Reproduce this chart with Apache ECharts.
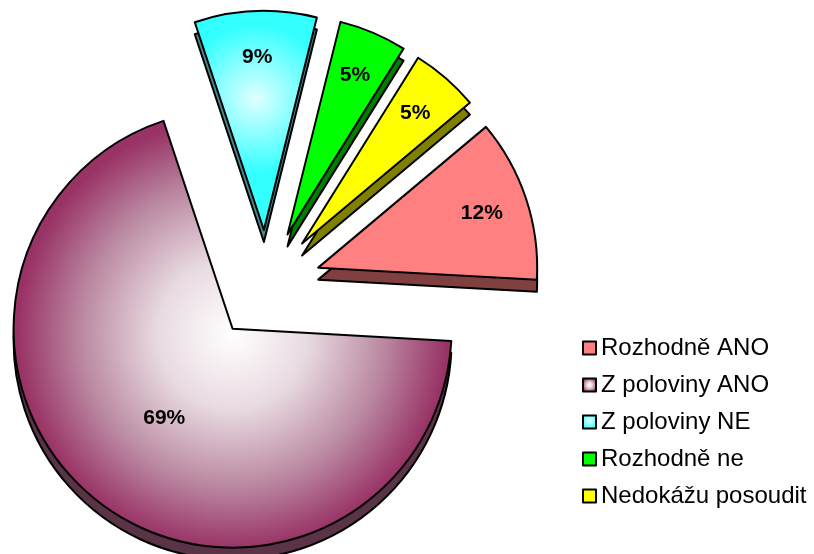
<!DOCTYPE html>
<html>
<head>
<meta charset="utf-8">
<script src="https://cdn.jsdelivr.net/npm/echarts@6/dist/echarts.min.js"></script>
<style>
  html, body { margin: 0; padding: 0; background: #fff; }
  #chart { width: 814px; height: 554px; }
</style>
</head>
<body>
<div id="chart"></div>
<script>
// odpovedi
var categories = ['Rozhodně ANO', 'Z poloviny ANO', 'Z poloviny NE', 'Rozhodně ne', 'Nedokážu posoudit'];
var shares = [12, 69, 9, 5, 5];

var plum = new echarts.graphic.RadialGradient(0.5, 0.5, 0.5, [
    {offset: 0, color: '#ffffff'},
    {offset: 0.35, color: '#e8dae1'},
    {offset: 0.7, color: '#bb8aa2'},
    {offset: 1, color: '#993366'}
]);
var aqua = new echarts.graphic.RadialGradient(0.5, 0.4, 0.6, [
    {offset: 0, color: '#e0ffff'},
    {offset: 1, color: '#33ffff'}
]);
var topColors = ['#ff8080', plum, aqua, '#00ff00', '#ffff00'];
var sideColors = ['#804040', '#5a3346', '#4a8a8f', '#008000', '#808000'];

var chart = echarts.init(document.getElementById('chart'));

function slices(colors, labelFor) {
    return categories.map(function (name, i) {
        return {
            name: name,
            value: shares[i],
            selected: true,
            itemStyle: {color: colors[i]},
            label: {show: labelFor(i)}
        };
    });
}

var base = {
    type: 'pie',
    startAngle: 40,
    clockwise: true,
    selectedMode: 'multiple',
    selectedOffset: 55,
    avoidLabelOverlap: false,
    labelLine: {show: false},
    emphasis: {disabled: true},
    animation: false
};

var font = 'Liberation Sans, Arial, sans-serif';
var pctLabel = {
    position: 'inside',
    formatter: '{c}%',
    fontFamily: font,
    fontSize: 21,
    fontWeight: 'bold',
    color: '#000'
};

var option = {
    backgroundColor: '#fff',
    legend: {
        orient: 'vertical',
        left: 577,
        top: 331,
        itemWidth: 13,
        itemHeight: 13,
        itemGap: 13,
        icon: 'rect',
        selectedMode: false,
        itemStyle: {borderColor: '#000', borderWidth: 2},
        textStyle: {fontFamily: font, fontSize: 24, color: '#000'},
        data: categories
    },
    series: [
        // horni plocha
        echarts.util.extend({
            name: 'top',
            z: 3,
            center: [266, 285],
            radius: [0, 219],
            itemStyle: {borderColor: '#000', borderWidth: 2},
            label: pctLabel,
            data: slices(topColors, function (i) { return i === 1; })
        }, base),
        // bok (3D)
        echarts.util.extend({
            name: 'side',
            z: 1,
            silent: true,
            center: [266, 297],
            radius: [0, 219],
            itemStyle: {borderColor: '#000', borderWidth: 2},
            label: {show: false},
            data: slices(sideColors, function () { return false; })
        }, base),
        // popisky malych vysecí
        echarts.util.extend({
            name: 'labels',
            z: 4,
            silent: true,
            center: [266, 285],
            radius: [120, 219],
            itemStyle: {color: 'rgba(0,0,0,0)', borderWidth: 0},
            label: pctLabel,
            data: slices(categories.map(function () { return 'rgba(0,0,0,0)'; }),
                function (i) { return i !== 1; })
        }, base)
    ]
};

chart.setOption(option);
</script>
</body>
</html>
